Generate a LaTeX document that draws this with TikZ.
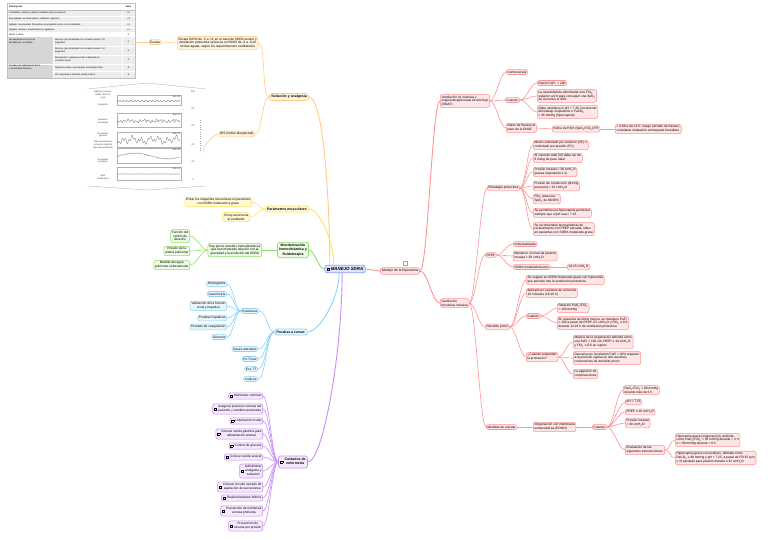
\documentclass[tikz,border=0pt]{standalone}
\usepackage{fontspec}
\setmainfont{Liberation Sans}
\usepackage{xcolor}
\usepackage{tikz}
\usetikzlibrary{positioning}

\definecolor{redln}{HTML}{FF9494}
\definecolor{redbg}{HTML}{FFE5E5}
\definecolor{orgln}{HTML}{FFCD85}
\definecolor{orgbg}{HTML}{FFF2DE}
\definecolor{yelln}{HTML}{FFE15E}
\definecolor{yelbg}{HTML}{FFF9D8}
\definecolor{grnln}{HTML}{8FE070}
\definecolor{grnbg}{HTML}{EDFBE4}
\definecolor{bluln}{HTML}{8DD3F7}
\definecolor{blubg}{HTML}{E8F6FE}
\definecolor{purln}{HTML}{CB8DF4}
\definecolor{purbg}{HTML}{F6E9FE}
\definecolor{rootln}{HTML}{8E9EF5}
\definecolor{rootbg}{HTML}{DDE3FD}
\definecolor{tabgrey}{HTML}{EDEDED}
\definecolor{tabdark}{HTML}{D6D6D6}

\newcommand{\taskbox}{{\setlength{\fboxsep}{0pt}\setlength{\fboxrule}{0.3pt}\fbox{\rule{0pt}{2.2pt}\hspace{2.2pt}}}}
\newcommand{\tasktext}[1]{\taskbox\hspace{1.5pt}\begin{tabular}{@{}c@{}}#1\end{tabular}}

\begin{document}
\begin{tikzpicture}[
    x=1pt, y=-1pt,
    every node/.style={font=\fontsize{3.2}{3.8}\selectfont, inner sep=1.3pt},
    topic/.style={rectangle, rounded corners=2.2pt, line width=0.55pt, align=center},
    orangebox/.style={topic, draw=orgln, fill=orgbg},
    yellowbox/.style={topic, draw=yelln, fill=yelbg},
    greenbox/.style={topic, draw=grnln, fill=grnbg},
    bluebox/.style={topic, draw=bluln, fill=blubg},
    purplebox/.style={topic, draw=purln, fill=purbg},
    redbox/.style={topic, draw=redln, fill=redbg, align=left},
    mainbox/.style={font=\fontsize{3.5}{4.2}\selectfont\bfseries, inner sep=1.8pt, line width=0.7pt},
    rootbox/.style={topic, draw=rootln, fill=rootbg, line width=0.8pt, inner sep=2pt,
        font=\fontsize{4.4}{5}\selectfont\bfseries\itshape},
    orangeline/.style={draw=orgln, line width=0.6pt},
    orangemain/.style={draw=orgln, line width=0.9pt},
    yellowline/.style={draw=yelln, line width=0.6pt},
    yellowmain/.style={draw=yelln, line width=0.9pt},
    greenline/.style={draw=grnln, line width=0.6pt},
    greenmain/.style={draw=grnln, line width=0.9pt},
    blueline/.style={draw=bluln, line width=0.6pt},
    bluemain/.style={draw=bluln, line width=0.9pt},
    purpleline/.style={draw=purln, line width=0.6pt},
    purplemain/.style={draw=purln, line width=0.9pt},
    redline/.style={draw=redln, line width=0.6pt},
    redmain/.style={draw=redln, line width=0.9pt},
    rightlink/.style={out=0, in=180, out distance=#1, in distance=#1},
    rightlink/.default=6pt,
    leftlink/.style={out=180, in=0, out distance=#1, in distance=#1},
    leftlink/.default=6pt,
    tabtext/.style={font=\fontsize{2.3}{2.7}\selectfont, inner sep=0.5pt, anchor=west, align=left},
    charttext/.style={font=\fontsize{2.3}{2.7}\selectfont, inner sep=0pt, align=center, text=black!75}
]
\useasboundingbox[fill=white] (0,0) rectangle (768,539);

% RASS table
\fill[black!10] (8,4) rectangle (136,79);
\fill[white] (7,3) rectangle (135,78);
\fill[tabgrey] (7,10) rectangle (135,32);
\fill[tabgrey] (7,37) rectangle (135,78);
\fill[tabdark] (7,37) rectangle (53,78);
\draw[white, line width=0.4pt] (7,16) -- (135,16) (7,22) -- (135,22) (7,27) -- (135,27)
    (53,46) -- (135,46) (53,55) -- (135,55) (7,64) -- (135,64) (53,71) -- (135,71)
    (122,10) -- (122,32) (122,37) -- (122,78) (53,37) -- (53,78);
\draw[black!25, line width=0.3pt] (7,10) -- (135,10) (7,3) rectangle (135,78);
\node[tabtext, font=\fontsize{2.3}{2.7}\selectfont\bfseries] (th1) at (8.5,6.5) {Descripción};
\node[tabtext, anchor=center, font=\fontsize{2.3}{2.7}\selectfont\bfseries] (th2) at (128.5,6.5) {Valor};
\node[tabtext] (d1) at (8.5,13) {Combativo, violento, peligro inmediato para el personal};
\node[tabtext] (d2) at (8.5,19) {Muy agitado, se retira tubos o catéteres; agresivo};
\node[tabtext] (d3) at (8.5,24.5) {Agitado: movimientos frecuentes sin propósito, lucha con el ventilador};
\node[tabtext] (d4) at (8.5,29.5) {Inquieto, ansioso, movimientos no agresivos};
\node[tabtext] (d5) at (8.5,34.5) {Alerta y calmo};
\node[tabtext] (blockA) at (8.5,41.5) {Se despierta a la voz o al\\llamado por su nombre};
\node[tabtext] (d6) at (54.5,41.5) {Abre los ojos al llamado con contacto visual > 10\\segundos};
\node[tabtext] (d7) at (54.5,50.5) {Abre los ojos al llamado con contacto visual < 10\\segundos};
\node[tabtext] (d8) at (54.5,59.5) {Movimiento o apertura ocular al llamado sin\\contacto visual};
\node[tabtext] (blockB) at (8.5,67.5) {Prueba a la estimulación física\\o al estímulo doloroso};
\node[tabtext] (d9) at (54.5,67.5) {Apertura ocular o movimiento al estímulo físico};
\node[tabtext] (d10) at (54.5,74.5) {Sin respuesta a estímulo verbal o físico};
\node[tabtext, anchor=center] (v1) at (128.5,13) {+4};
\node[tabtext, anchor=center] (v2) at (128.5,19) {+3};
\node[tabtext, anchor=center] (v3) at (128.5,24.5) {+2};
\node[tabtext, anchor=center] (v4) at (128.5,29.5) {+1};
\node[tabtext, anchor=center] (v5) at (128.5,34.5) {0};
\node[tabtext, anchor=center] (v6) at (128.5,41.5) {-1};
\node[tabtext, anchor=center] (v7) at (128.5,50.5) {-2};
\node[tabtext, anchor=center] (v8) at (128.5,59.5) {-3};
\node[tabtext, anchor=center] (v9) at (128.5,67.5) {-4};
\node[tabtext, anchor=center] (v10) at (128.5,74.5) {-5};

% BIS chart
\draw[black!35, line width=0.3pt] (88,89) -- (147,83) -- (206,89);
\draw[black!35, line width=0.3pt] (88,186) -- (147,190) -- (206,186);
\draw[black!30, line width=0.25pt] (117,95) rectangle (181,105) (117,113) rectangle (181,127)
    (117,132) rectangle (181,147) (117,148) rectangle (181,163) (117,167) rectangle (181,180);
\draw[black!60, line width=0.25pt] plot[domain=0:63, samples=150] ({117+\x}, {101 + 0.6*sin(\x*97) + 0.4*sin(\x*211)});
\draw[black!60, line width=0.25pt] plot[domain=0:63, samples=150] ({117+\x}, {121 + 0.9*sin(\x*89) + 0.8*sin(\x*151+40) + 0.6*sin(\x*23)});
\draw[black!60, line width=0.25pt] plot[domain=0:63, samples=150] ({117+\x}, {140 + 2.2*sin(\x*41) + 1.6*sin(\x*113+20) + 1.2*sin(\x*17)});
\draw[black!60, line width=0.25pt] plot[domain=0:63, samples=150] ({117+\x}, {156 - 2.8*sin(\x*5.5-9) + 0.35*sin(\x*120)});
\draw[black!60, line width=0.25pt] plot[domain=0:63, samples=150] ({117+\x}, {174 + 0.2*sin(\x*190)});
\node[charttext, anchor=north east] (bis1) at (180.5,95.5) {BIS≈95};
\node[charttext, anchor=north east] (bis2) at (180.5,113.5) {BIS≈70};
\node[charttext, anchor=north east] (bis3) at (180.5,132.5) {BIS≈50};
\node[charttext, anchor=north east] (bis4) at (180.5,148.5) {BIS≈30};
\node[charttext, anchor=north east] (bis5) at (180.5,167.5) {BIS≈10};
\node[charttext] (lvig) at (103,95) {Vigilia (se mueve,\\habla, abre los\\ojos)};
\node[charttext] (ldesp) at (103,105) {Despierto};
\node[charttext] (lsedm) at (103,121) {Sedación\\moderada};
\node[charttext] (lanes) at (103,135) {Anestesia\\general};
\node[charttext] (lbajo) at (103,145) {Bajo el umbral de\\recuerdo explícito\\(hipnosis profunda)};
\node[charttext] (lanesp) at (103,161) {Anestesia\\profunda};
\node[charttext] (leeg) at (103,177) {EEG\\isoeléctrico};
\node[charttext] (s100) at (193,92) {100};
\node[charttext] (s80) at (193,109) {80};
\node[charttext] (s60) at (193,126) {60};
\node[charttext] (s40) at (193,145) {40};
\node[charttext] (s20) at (193,162) {20};
\node[charttext] (s0) at (193,180) {0};
\draw[black!35, line width=0.3pt, dotted] (200,120) -- (200,152);

% Root
\node[rootbox] (root) at (345,269) {\taskbox\ MANEJO SDRA};

% Sedacion y analgesia
\node[orangebox, mainbox] (sedacion) at (289,97) {Sedación y analgesia};
\node[orangebox] (escala) at (155,42) {Escala};
\node[orangebox, anchor=west] (rass) at (177,43) {Escala RASS de -5 a +4; en el caso de SDRA severo y\\ventilación protectora se busca un RASS de -4 a -5 en\\la fase aguda, según los requerimientos ventilatorios};
\node[orangebox, anchor=east] (bis) at (255,134) {BIS (índice biespectral)};
\coordinate (tablaR) at (135,42);
\coordinate (graficaR) at (203,152);

% Parametros musculares
\node[yellowbox, mainbox] (musculos) at (287,209) {Parámetros musculares};
\node[yellowbox, anchor=east] (evitar) at (252,202) {Evitar los relajantes musculares en pacientes\\con SDRA moderado a grave};
\node[yellowbox, anchor=east] (asincronia) at (250,217) {Si hay asincronía\\al ventilador};

% Monitorizacion
\node[greenbox, mainbox] (hemodinamia) at (293,250) {Monitorización\\hemodinámica y\\fluidoterapia};
\node[greenbox, anchor=east] (estudios) at (262,250) {Hay pocos estudios hemodinámicos\\que han mostrado relación con la\\gravedad y la evolución del SDRA};
\node[greenbox, anchor=east] (ventriculo) at (190,236) {Función del\\ventrículo\\derecho};
\node[greenbox, anchor=east] (arteria) at (190,251) {Presión de la\\arteria pulmonar};
\node[greenbox, anchor=east] (aguapulm) at (190,265) {Medida del agua\\pulmonar extravascular};

% Pruebas
\node[bluebox, mainbox] (pruebas) at (291,332) {Pruebas a tomar:};
\node[bluebox] (examenes) at (250,311) {Exámenes};
\node[bluebox, anchor=east] (hemograma) at (227,284) {Hemograma};
\node[bluebox, anchor=east] (gasometria) at (227,294) {Gasometría};
\node[bluebox, anchor=east] (renal) at (227,306) {Valoración de la función\\renal y hepática};
\node[bluebox, anchor=east] (hepaticas) at (227,318) {Pruebas hepáticas};
\node[bluebox, anchor=east] (coagulacion) at (227,327) {Pruebas de coagulación};
\node[bluebox, anchor=east] (glicemia) at (227,337) {Glicemia};
\node[bluebox, anchor=east] (gases) at (258,349) {Gases arteriales};
\node[bluebox, anchor=east] (rxtorax) at (258,359) {Rx Tórax};
\node[bluebox, anchor=east] (ecott) at (258,369) {Eco-TT};
\node[bluebox, anchor=east] (cultivos) at (258,379) {Cultivos};

% Cuidados de enfermeria
\node[purplebox, mainbox] (cuidados) at (293,462) {\tasktext{Cuidados de\\enfermería}};
\node[purplebox, anchor=east] (monitoreo) at (263,396) {\tasktext{Monitoreo continuo}};
\node[purplebox, anchor=east] (posicion) at (263,409) {\tasktext{Asegurar posición correcta del\\paciente y cambios posturales}};
\node[purplebox, anchor=east] (ocular) at (263,421) {\tasktext{Lubricación ocular}};
\node[purplebox, anchor=east] (sondagas) at (263,434) {\tasktext{Colocar sonda gástrica para\\alimentación enteral}};
\node[purplebox, anchor=east] (glucosa) at (263,446) {\tasktext{Control de glucosa}};
\node[purplebox, anchor=east] (sondaves) at (263,457) {\tasktext{Colocar sonda vesical}};
\node[purplebox, anchor=east] (analgesia) at (263,471) {\tasktext{Administrar\\analgesia y\\sedación}};
\node[purplebox, anchor=east] (aspiracion) at (263,487) {\tasktext{Colocar circuito cerrado de\\aspiración de secreciones}};
\node[purplebox, anchor=east] (balance) at (263,498) {\tasktext{Realizar balance hídrico}};
\node[purplebox, anchor=east] (trombosis) at (263,511) {\tasktext{Prevención de trombosis\\venosa profunda}};
\node[purplebox, anchor=east] (ulceras) at (263,526) {\tasktext{Prevención de\\úlceras por presión}};

% Manejo de la hipoxemia
\node[redbox, font=\fontsize{3.4}{4}\selectfont, inner sep=1.6pt, line width=0.7pt] (hipox) at (400,271) {Manejo de la hipoxemia};
\node[draw=black!35, fill=white, line width=0.3pt, minimum size=4.5pt, inner sep=0pt] (nota) at (405,263) {};
\node[redbox, anchor=west] (onaf) at (440,101) {Ventilación no invasiva y\\oxigenoterapia nasal de alto flujo\\(ONAF)};
\node[redbox, anchor=west] (controv) at (506,72) {Controversial};
\node[redbox, anchor=west] (cuando1) at (505,100) {Cuando:};
\node[redbox, anchor=west] (pafi200) at (537,83) {Razón PaFi: > 200};
\node[redbox, anchor=west] (fio2) at (537,96) {La necesidad de administrar una FiO\textsubscript{2}\\superior a 0.6 para conseguir una SpO\textsubscript{2}\\de al menos el 90\%};
\node[redbox, anchor=west] (phneg) at (537,112) {Debe ventilarse si pH < 7.35, incremento\\del trabajo respiratorio o PaCO\textsubscript{2}\\> 45 mmHg (hipercapnia)};
\node[redbox, anchor=west] (fracaso) at (506,128) {Datos de fracaso al\\paso de la ONAF};
\node[redbox, anchor=west] (rox) at (552,129) {Índice de ROX (SpO\textsubscript{2}/FiO\textsubscript{2})/FR};
\node[redbox, anchor=west] (roxbajo) at (615,129) {< 4.88 a las 12 h: riesgo elevado de fracaso;\\considerar intubación orotraqueal inmediata};

\node[redbox, anchor=west] (vmi) at (440,303) {Ventilación\\mecánica invasiva};
\node[redbox, anchor=west] (estrategia) at (487,188) {Estrategia protectora};
\node[redbox, anchor=west] (modo) at (533,145) {Modo controlado por volumen (VC) o\\controlado por presión (PC)};
\node[redbox, anchor=west] (vtidal) at (533,158) {El volumen tidal (Vt) debe ser de\\6 ml/kg de peso ideal};
\node[redbox, anchor=west] (meseta) at (533,172) {Presión meseta < 30 cmH\textsubscript{2}O\\(pausa inspiratoria 1 s)};
\node[redbox, anchor=west] (driving) at (533,186) {Presión de conducción (driving\\pressure) < 15 cmH\textsubscript{2}O};
\node[redbox, anchor=west] (fio2b) at (533,199) {FiO\textsubscript{2} para una\\SpO\textsubscript{2} de 88-95\%};
\node[redbox, anchor=west] (hipercap) at (533,213) {Se permitirá una hipercapnia permisiva\\siempre que el pH sea > 7.15};
\node[redbox, anchor=west] (recluta) at (533,229) {Se recomiendan las maniobras de\\reclutamiento con PEEP elevada; útiles\\en pacientes con SDRA moderado-grave};
\node[redbox, anchor=west] (peep) at (485,255) {PEEP};
\node[redbox, anchor=west] (indiv) at (513,244) {Individualizada};
\node[redbox, anchor=west] (mantener) at (513,256) {Mantener un nivel de presión\\meseta < 30 cmH\textsubscript{2}O};
\node[redbox, anchor=west] (sdramod) at (513,267) {SDRA moderado/severo};
\node[redbox, anchor=west] (peepval) at (567,267) {10-15 cmH\textsubscript{2}O};
\node[redbox, anchor=west] (prono) at (485,327) {Decúbito prono};
\node[redbox, anchor=west] (sugiere) at (526,280) {Se sugiere en SDRA moderado-grave con hipoxemia\\que persiste tras la ventilación protectora};
\node[redbox, anchor=west] (aplicar) at (526,293) {Aplicarlo en sesiones de al menos\\16 h diarias (16-20 h)};
\node[redbox, anchor=west] (cuando2) at (526,316) {Cuándo:};
\node[redbox, anchor=west] (pafi150) at (557,308) {Relación PaO\textsubscript{2}/FiO\textsubscript{2}\\< 150 mmHg};
\node[redbox, anchor=west] (ausencia) at (557,323) {En ausencia de dicha mejora, se mantiene PaFi\\< 150 a pesar de PEEP ≥ 5 cmH\textsubscript{2}O y FiO\textsubscript{2} ≥ 0.6\\durante 12-24 h de ventilación protectora};
\node[redbox, anchor=west] (suspender) at (526,357) {¿Cuándo suspender\\la pronación?};
\node[redbox, anchor=west] (mejoria) at (573,342) {Mejoría de la oxigenación definida como\\una PaFi > 150 con PEEP ≤ 10 cmH\textsubscript{2}O\\y FiO\textsubscript{2} ≤ 0.6 en supino};
\node[redbox, anchor=west] (descenso) at (573,358) {Descenso en la relación PaFi > 20\% respecto\\a la posición supina en dos sesiones\\consecutivas de decúbito prono};
\node[redbox, anchor=west] (complica) at (573,374) {La aparición de\\complicaciones};
\node[redbox, anchor=west] (rescate) at (486,427) {Medidas de rescate};
\node[redbox, anchor=west] (ecmo) at (533,427) {Oxigenación con membrana\\extracorpórea (ECMO)};
\node[redbox, anchor=west] (cuando3) at (592,427) {Cuando:};
\node[redbox, anchor=west] (refract) at (623,390) {PaO\textsubscript{2}/FiO\textsubscript{2} < 80 mmHg\\durante más de 6 h};
\node[redbox, anchor=west] (phval) at (625,402) {pH < 7.25};
\node[redbox, anchor=west] (peepdiez) at (625,412) {PEEP ≥ 10 cmH\textsubscript{2}O};
\node[redbox, anchor=west] (presmes) at (625,423) {Presión meseta\\> 30 cmH\textsubscript{2}O};
\node[redbox, anchor=west] (evalua) at (625,450) {Evaluación de las\\siguientes intervenciones:};
\node[redbox, anchor=west] (hipoxgrave) at (675,440) {Hipoxemia grave (oxigenación), definida\\como PaO\textsubscript{2}/FiO\textsubscript{2} < 50 mmHg durante > 3 h\\o < 80 mmHg durante > 6 h};
\node[redbox, anchor=west] (hipercapgrave) at (675,458) {Hipercapnia grave con acidosis, definida como\\PaCO\textsubscript{2} ≥ 60 mmHg y pH < 7.25, a pesar de FR 35 rpm\\y Vt ajustado para presión meseta ≤ 32 cmH\textsubscript{2}O};

% Connectors, left side
\draw[orangeline] (tablaR) -- (escala.west);
\draw[orangeline] (escala.east) -- (rass.west);
\draw[orangeline, rightlink=8pt] (rass.east) to (sedacion.west);
\draw[orangeline, leftlink=7pt] (sedacion.west) to (bis.east);
\draw[orangeline] (bis.west) to[out=180, in=90, out distance=4pt, in distance=8pt] (graficaR);
\draw[orangemain] (sedacion.east) to[out=0, in=90, out distance=15pt, in distance=60pt] (root.165);

\draw[yellowline, leftlink] (musculos.west) to (evitar.east);
\draw[yellowline, leftlink] (musculos.west) to (asincronia.east);
\draw[yellowmain] (musculos.east) to[out=0, in=90, out distance=10pt, in distance=25pt] (root.160);

\draw[greenmain, rightlink] (hemodinamia.east) to (root.west);
\draw[greenline] (hemodinamia.west) -- (estudios.east);
\draw[greenline, leftlink] (estudios.west) to (ventriculo.east);
\draw[greenline, leftlink] (estudios.west) to (arteria.east);
\draw[greenline, leftlink] (estudios.west) to (aguapulm.east);

\draw[bluemain] (pruebas.east) to[out=0, in=270, out distance=12pt, in distance=25pt] (root.215);
\draw[blueline, leftlink=8pt] (pruebas.west) to (examenes.east);
\draw[blueline, leftlink=8pt] (pruebas.west) to (gases.east);
\draw[blueline, leftlink=8pt] (pruebas.west) to (rxtorax.east);
\draw[blueline, leftlink=8pt] (pruebas.west) to (ecott.east);
\draw[blueline, leftlink=8pt] (pruebas.west) to (cultivos.east);
\draw[blueline, leftlink] (examenes.west) to (hemograma.east);
\draw[blueline, leftlink] (examenes.west) to (gasometria.east);
\draw[blueline, leftlink] (examenes.west) to (renal.east);
\draw[blueline, leftlink] (examenes.west) to (hepaticas.east);
\draw[blueline, leftlink] (examenes.west) to (coagulacion.east);
\draw[blueline, leftlink] (examenes.west) to (glicemia.east);

\draw[purplemain] (cuidados.east) to[out=0, in=270, out distance=15pt, in distance=80pt] (root.235);
\draw[purpleline, leftlink] (cuidados.west) to (monitoreo.east);
\draw[purpleline, leftlink] (cuidados.west) to (posicion.east);
\draw[purpleline, leftlink] (cuidados.west) to (ocular.east);
\draw[purpleline, leftlink] (cuidados.west) to (sondagas.east);
\draw[purpleline, leftlink] (cuidados.west) to (glucosa.east);
\draw[purpleline, leftlink] (cuidados.west) to (sondaves.east);
\draw[purpleline, leftlink] (cuidados.west) to (analgesia.east);
\draw[purpleline, leftlink] (cuidados.west) to (aspiracion.east);
\draw[purpleline, leftlink] (cuidados.west) to (balance.east);
\draw[purpleline, leftlink] (cuidados.west) to (trombosis.east);
\draw[purpleline, leftlink] (cuidados.west) to (ulceras.east);

% Connectors, right side
\draw[redmain] (root.east) -- (hipox.west);
\draw[redmain, rightlink=8pt] (hipox.east) to (onaf.west);
\draw[redmain, rightlink=8pt] (hipox.east) to (vmi.west);
\draw[redline, rightlink] (onaf.east) to (controv.west);
\draw[redline, rightlink] (onaf.east) to (cuando1.west);
\draw[redline, rightlink] (onaf.east) to (fracaso.west);
\draw[redline, rightlink] (cuando1.east) to (pafi200.west);
\draw[redline, rightlink] (cuando1.east) to (fio2.west);
\draw[redline, rightlink] (cuando1.east) to (phneg.west);
\draw[redline] (fracaso.east) -- (rox.west);
\draw[redline] (rox.east) -- (roxbajo.west);

\draw[redline, rightlink] (vmi.east) to (estrategia.west);
\draw[redline, rightlink] (vmi.east) to (peep.west);
\draw[redline, rightlink] (vmi.east) to (prono.west);
\draw[redline, rightlink] (vmi.east) to (rescate.west);
\draw[redline, rightlink] (estrategia.east) to (modo.west);
\draw[redline, rightlink] (estrategia.east) to (vtidal.west);
\draw[redline, rightlink] (estrategia.east) to (meseta.west);
\draw[redline, rightlink] (estrategia.east) to (driving.west);
\draw[redline, rightlink] (estrategia.east) to (fio2b.west);
\draw[redline, rightlink] (estrategia.east) to (hipercap.west);
\draw[redline, rightlink] (estrategia.east) to (recluta.west);
\draw[redline, rightlink] (peep.east) to (indiv.west);
\draw[redline, rightlink] (peep.east) to (mantener.west);
\draw[redline, rightlink] (peep.east) to (sdramod.west);
\draw[redline] (sdramod.east) -- (peepval.west);
\draw[redline, rightlink] (prono.east) to (sugiere.west);
\draw[redline, rightlink] (prono.east) to (aplicar.west);
\draw[redline, rightlink] (prono.east) to (cuando2.west);
\draw[redline, rightlink] (prono.east) to (suspender.west);
\draw[redline, rightlink] (cuando2.east) to (pafi150.west);
\draw[redline, rightlink] (cuando2.east) to (ausencia.west);
\draw[redline, rightlink] (suspender.east) to (mejoria.west);
\draw[redline, rightlink] (suspender.east) to (descenso.west);
\draw[redline, rightlink] (suspender.east) to (complica.west);
\draw[redline] (rescate.east) -- (ecmo.west);
\draw[redline] (ecmo.east) -- (cuando3.west);
\draw[redline, rightlink] (cuando3.east) to (refract.west);
\draw[redline, rightlink] (cuando3.east) to (phval.west);
\draw[redline, rightlink] (cuando3.east) to (peepdiez.west);
\draw[redline, rightlink] (cuando3.east) to (presmes.west);
\draw[redline, rightlink] (cuando3.east) to (evalua.west);
\draw[redline, rightlink] (evalua.east) to (hipoxgrave.west);
\draw[redline, rightlink] (evalua.east) to (hipercapgrave.west);

\end{tikzpicture}
\end{document}
